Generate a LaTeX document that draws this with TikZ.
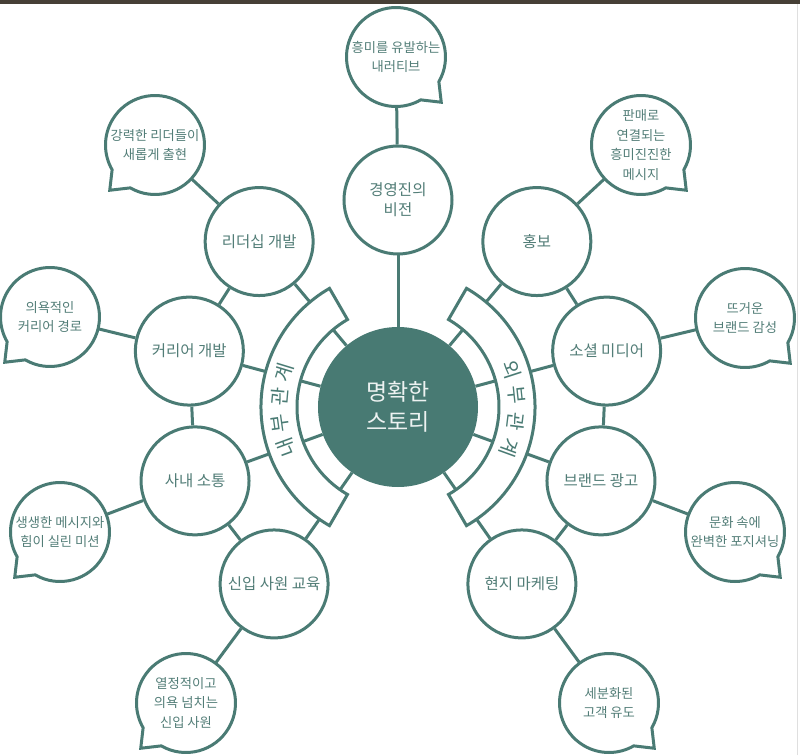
\documentclass[tikz,border=0pt]{standalone}
\usepackage{fontspec}
\setmainfont{Noto Sans CJK KR}
\usetikzlibrary{backgrounds}
\definecolor{tealline}{HTML}{4A7B74}
\definecolor{tealtext}{HTML}{527D77}
\definecolor{corefill}{HTML}{487A73}
\definecolor{topbar}{HTML}{463F36}
\tikzset{
  topic/.style={circle,draw=tealline,fill=white,line width=3pt,minimum size=108pt,inner sep=0pt,
    text=tealtext,align=center,font=\fontsize{15.5}{20}\selectfont},
  bubble/.style={circle,minimum size=99pt,inner sep=0pt,outer sep=0pt,
    text=tealtext,align=center,font=\fontsize{13.3}{19.5}\selectfont},
  link/.style={draw=tealline,line width=3pt},
  band/.style={draw=tealline,fill=white,line width=3pt},
  bandtext/.style={text=tealline,inner sep=0pt,font=\fontsize{20}{20}\selectfont},
}

\begin{document}
\begin{tikzpicture}[x=1pt,y=1pt]
\useasboundingbox (-398,-348) rectangle (402,407);
\fill[topbar] (-398,403) rectangle (402,407);
\draw[gray!25,line width=1pt] (399,-348) -- (399,403);

\node[circle,fill=corefill,minimum size=160pt,inner sep=0pt,text=white!90!tealline,align=center,
  font=\fontsize{23}{30}\selectfont] (story) at (0,0) {명확한\\스토리};

\node[topic] (vision) at (90:207) {경영진의\\비전};
\node[topic] (lead) at (130:216) {리더십 개발};
\node[topic] (career) at (165:216) {커리어 개발};
\node[topic] (comm) at (200:216) {사내 소통};
\node[topic] (onboard) at (235:216) {신입 사원 교육};
\node[topic] (promo) at (50:216) {홍보};
\node[topic] (social) at (15:216) {소셜 미디어};
\node[topic] (advert) at (-20:216) {브랜드 광고};
\node[topic] (local) at (-55:216) {현지 마케팅};

\node[bubble] (narrative) at (-2,350) {흥미를 유발하는\\내러티브};
\node[bubble] (leaders) at (-243,262) {강력한 리더들이\\새롭게 출현};
\node[bubble] (route) at (-348,90) {의욕적인\\커리어 경로};
\node[bubble] (vivid) at (-338,-125) {생생한 메시지와\\힘이 실린 미션};
\node[bubble] (fresh) at (-212,-296) {열정적이고\\의욕 넘치는\\신입 사원};
\node[bubble] (sales) at (243,262) {판매로\\연결되는\\흥미진진한\\메시지};
\node[bubble] (warm) at (347,89) {뜨거운\\브랜드 감성};
\node[bubble] (culture) at (337,-125) {문화 속에\\완벽한 포지셔닝};
\node[bubble] (segment) at (211,-296) {세분화된\\고객 유도};

\foreach \b/\t in {narrative/315,leaders/225,route/225,vivid/225,fresh/225,sales/315,warm/315,culture/315,segment/315}
{
  \pgfmathtruncatemacro\ta{\t-15}
  \pgfmathtruncatemacro\tb{\t+15}
  \pgfmathtruncatemacro\tc{\t+345}
  \draw[link] (\b.\tb) arc[start angle=\tb,end angle=\tc,radius=49.5] -- ([shift={(\t:64)}]\b.center) -- cycle;
}

\begin{scope}[on background layer]
\foreach \n in {vision,lead,career,comm,onboard,promo,social,advert,local}
  \draw[link] (story) -- (\n);
\draw[band] (120:101) arc[start angle=120,end angle=240,radius=101] -- (240:137)
  arc[start angle=240,end angle=120,radius=137] -- cycle;
\draw[band] (-60:101) arc[start angle=-60,end angle=60,radius=101] -- (60:137)
  arc[start angle=60,end angle=-60,radius=137] -- cycle;
\end{scope}

\draw[link] (lead) -- (career) -- (comm) -- (onboard);
\draw[link] (promo) -- (social) -- (advert) -- (local);

\draw[link] (narrative) -- (vision);
\draw[link] (leaders) -- (lead);
\draw[link] (route) -- (career);
\draw[link] (vivid) -- (comm);
\draw[link] (fresh) -- (onboard);
\draw[link] (sales) -- (promo);
\draw[link] (warm) -- (social);
\draw[link] (culture) -- (advert);
\draw[link] (segment) -- (local);

\node[bandtext,rotate=110] (in1) at (200:119) {내};
\node[bandtext,rotate=98] (in2) at (188:119) {부};
\node[bandtext,rotate=85] (in3) at (175:119) {관};
\node[bandtext,rotate=73] (in4) at (163:119) {계};
\node[bandtext,rotate=-72] (out1) at (18:119) {외};
\node[bandtext,rotate=-84] (out2) at (6:119) {부};
\node[bandtext,rotate=-97] (out3) at (-7:119) {관};
\node[bandtext,rotate=-110] (out4) at (-20:119) {계};
\end{tikzpicture}
\end{document}
